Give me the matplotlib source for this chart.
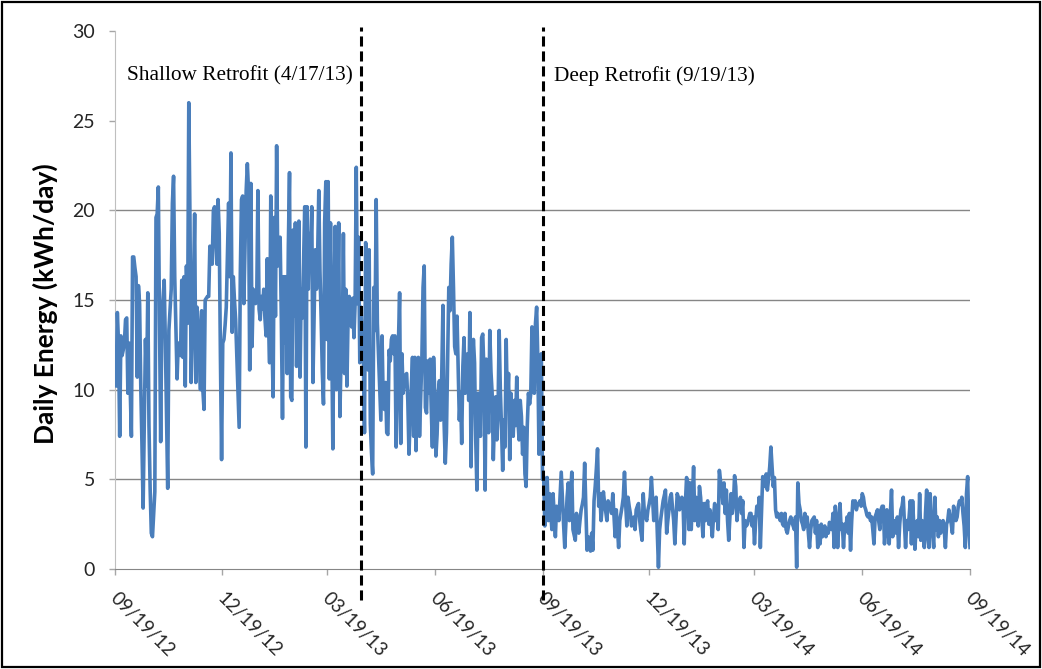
import matplotlib
matplotlib.use("Agg")
import matplotlib.pyplot as plt
from matplotlib.patches import Rectangle
from matplotlib.transforms import ScaledTranslation
import numpy as np
import pandas as pd

START = "2012-09-19"
SHALLOW_DATE = "2013-04-17"
DEEP_DATE = "2013-09-19"
END = "2014-09-19"

# daily energy use, kWh/day, one value per day
baseline = [
    12.0, 10.2, 14.3, 12.6, 7.4, 13.0, 11.9, 12.2, 12.6, 13.9,
    14.0, 9.8, 12.6, 10.0, 7.4, 17.4, 17.4, 16.8, 16.3, 10.7,
    15.8, 14.8, 10.2, 7.0, 3.4, 8.0, 12.8, 10.2, 15.4, 8.0,
    4.5, 2.0, 1.8, 3.0, 4.3, 19.6, 19.8, 21.3, 13.7, 7.1,
    14.1, 15.0, 16.1, 12.6, 8.5, 4.5, 13.3, 14.5, 15.6, 20.4,
    21.9, 16.3, 13.5, 10.6, 12.6, 12.2, 11.9, 16.1, 11.8, 16.3,
    10.2, 16.9, 13.7, 26.0, 19.6, 10.4, 13.0, 15.6, 19.8, 10.4,
    14.6, 13.7, 11.8, 10.0, 14.4, 10.0, 8.9, 15.0, 15.1, 15.2,
    15.2, 18.0, 17.5, 17.0, 20.0, 20.2, 18.5, 17.0, 20.6, 18.7,
    11.9, 6.1, 12.6, 12.8, 13.6, 14.6, 17.5, 20.4, 16.3, 23.2,
    13.2, 16.3, 15.0, 13.9, 11.9, 9.9, 7.9, 16.5, 20.6, 20.8,
    14.8, 18.0, 21.1, 22.6, 21.1, 11.1, 21.5, 12.4, 15.6, 15.2,
    14.8, 15.0, 21.1, 14.5, 13.9, 15.2, 14.5, 15.6, 14.0, 13.0,
    17.3, 14.0, 11.5, 20.8, 13.0, 9.6, 19.6, 14.1, 23.6, 16.9,
    17.5, 18.5, 14.0, 8.4, 16.3, 12.6, 16.3, 10.9, 18.0, 22.1,
    9.6, 9.4, 18.9, 14.1, 19.3, 11.3, 15.0, 19.4, 10.7, 15.6,
    14.0, 17.0, 20.2, 6.8, 20.2, 15.6, 18.7, 17.3, 20.2, 10.4,
    14.0, 17.8, 15.6, 17.4, 21.1, 16.6, 14.0, 11.0, 9.2, 19.3,
    21.6, 12.8, 21.6, 10.6, 19.3, 13.0, 6.7, 15.0, 19.1, 10.0,
    14.0, 19.3, 8.5, 11.8, 12.0, 18.7, 10.9, 15.6, 10.2, 14.0,
    15.2, 14.0, 13.5, 15.1, 12.9, 14.8, 22.4, 14.8, 18.5, 11.5,
]

after_shallow = [
    14.6, 12.6, 12.0, 7.6, 18.2, 17.5, 11.1, 17.8, 8.1, 6.5,
    5.3, 15.7, 13.3, 20.6, 13.7, 11.9, 10.0, 8.3, 13.0, 9.4,
    8.9, 10.4, 7.6, 7.5, 12.2, 11.6, 12.8, 13.0, 12.0, 13.0,
    6.8, 9.8, 12.5, 15.4, 7.0, 12.0, 9.8, 10.5, 10.8, 10.9,
    9.4, 6.4, 8.5, 10.2, 11.8, 7.4, 11.8, 6.6, 11.7, 11.8,
    7.4, 9.5, 11.7, 15.7, 16.9, 9.0, 8.7, 11.6, 9.8, 11.7,
    9.0, 6.8, 11.8, 9.8, 6.3, 7.5, 9.8, 10.5, 8.3, 10.9,
    14.7, 8.1, 5.9, 7.6, 11.7, 15.7, 14.4, 17.0, 18.5, 15.7,
    12.4, 12.0, 14.1, 11.3, 8.3, 9.8, 7.0, 11.3, 12.9, 9.8,
    10.9, 12.0, 9.4, 14.3, 5.7, 10.9, 12.8, 11.5, 7.2, 4.4,
    9.8, 9.4, 7.4, 12.9, 13.1, 11.0, 4.4, 11.7, 10.2, 7.6,
    13.3, 11.0, 9.8, 6.1, 8.3, 9.6, 7.2, 8.7, 13.3, 10.0,
    7.9, 5.5, 8.3, 6.8, 12.8, 9.0, 10.9, 6.1, 9.8, 8.3,
    7.4, 9.4, 8.0, 10.7, 8.3, 7.2, 9.4, 8.5, 6.4, 7.9,
    5.3, 4.6, 8.0, 9.8, 9.2, 9.8, 13.5, 11.0, 9.8, 13.7,
    14.6, 11.7, 6.4, 10.0, 12.0,
]

after_deep = [
    5.0,
    5.15, 2.4, 3.8, 5.1, 2.7, 4.2, 3.2, 2.2, 4.2, 3.0,
    1.8, 3.5, 3.1, 2.7, 4.0, 5.4, 3.9, 2.5, 1.2, 2.6,
    4.0, 4.8, 2.7, 4.0, 5.4, 2.2, 1.9, 1.6, 3.1, 2.5,
    2.0, 2.7, 3.3, 3.6, 4.0, 5.9, 3.5, 1.05, 1.8, 1.4,
    1.0, 2.0, 1.05, 3.8, 4.6, 5.6, 6.7, 3.5, 4.2, 2.7,
    3.5, 4.3, 3.65, 3.2, 2.7, 3.8, 3.6, 3.5, 3.1, 4.2,
    3.0, 1.8, 3.3, 2.2, 1.2, 2.7, 3.1, 3.5, 4.0, 5.4,
    3.65, 2.4, 4.0, 3.5, 3.1, 2.4, 2.6, 2.9, 2.2, 3.3,
    3.5, 3.65, 2.7, 2.1, 1.6, 4.2, 3.1, 2.9, 2.7, 3.3,
    3.6, 4.0, 5.1, 3.9, 2.7, 3.65, 4.0, 2.0, 0.1, 2.2,
    2.8, 3.3, 3.8, 4.1, 4.4, 2.0, 2.7, 3.3, 4.0, 4.2,
    3.4, 2.7, 1.4, 2.8, 4.2, 4.0, 3.3, 3.6, 4.0, 3.65,
    1.4, 3.65, 5.1, 4.8, 2.2, 4.8, 2.2, 3.9, 5.7, 2.7,
    4.0, 3.8, 2.4, 4.6, 4.0, 2.9, 1.8, 3.65, 2.7, 3.5,
    3.8, 2.5, 3.3, 2.6, 1.8, 2.9, 3.65, 2.7, 3.3, 2.2,
    5.5, 4.9, 4.6, 3.65, 4.8, 3.1, 4.4, 2.7, 1.6, 2.9,
    4.2, 3.1, 3.65, 5.2, 4.6, 2.7, 3.5, 3.7, 4.0, 3.1,
    3.8, 1.2, 2.7, 2.4, 2.5, 2.8, 3.1, 3.1, 2.4, 2.9,
    1.4, 2.7, 3.5, 3.0, 4.0, 1.2, 3.1, 5.15, 4.9, 4.6,
    5.3, 4.4, 5.0, 5.7, 6.8, 5.7, 4.6, 5.1, 3.3, 2.9,
    3.1, 2.9, 2.7, 3.1, 2.5, 2.4, 3.1, 2.2, 2.0, 2.4,
    2.7, 2.9, 2.6, 2.4, 2.2, 2.9, 0.1, 4.8, 3.65, 3.3,
    2.7, 2.5, 2.2, 3.1, 2.4, 2.9, 2.0, 1.2, 2.2, 2.7,
    2.8, 2.9, 2.0, 2.7, 1.2, 2.4, 1.4, 2.5, 1.8, 2.1,
    2.4, 1.8, 2.2, 2.0, 2.6,
    2.4, 2.2, 3.1, 1.2, 3.5, 2.7, 1.2, 2.5, 3.65, 2.2,
    2.5, 1.2, 2.5, 2.2, 2.9, 2.0, 3.1, 1.05, 2.7, 3.8,
    3.5, 3.8, 3.3, 3.6, 3.65, 3.8, 3.5, 4.2, 4.0, 3.5,
    3.3, 3.0, 2.9, 3.1, 2.7, 2.9, 2.2, 1.4, 2.9, 3.1,
    3.3, 2.7, 2.2, 3.3, 3.5, 3.5, 1.4, 2.4, 3.3, 2.2,
    1.4, 3.1, 4.4, 1.8, 2.7, 2.4, 2.0, 2.9, 1.2, 2.5,
    3.3, 3.5, 4.0, 2.6, 1.2, 2.7, 2.2, 2.9, 3.8, 1.4,
    3.8, 2.5, 1.1, 2.4, 2.7, 1.8, 4.2, 1.6, 2.7, 2.2,
    1.2, 3.1, 4.4, 1.8, 1.2, 4.2, 2.7, 2.0, 1.2, 4.0,
    2.2, 2.9, 1.8, 2.7, 2.0, 2.4, 2.7, 2.2, 1.2, 2.5,
    2.7, 3.3, 2.9, 2.5, 2.0, 3.5, 3.1, 2.7, 2.9, 3.5,
    3.8, 3.6, 4.0, 3.1, 2.4, 1.2, 4.2, 5.15, 2.2, 1.2,
]

tick_dates = ["2012-09-19", "2012-12-19", "2013-03-19", "2013-06-19", "2013-09-19",
              "2013-12-19", "2014-03-19", "2014-06-19", "2014-09-19"]
tick_labels = ["09/19/12", "12/19/12", "03/19/13", "06/19/13", "09/19/13",
               "12/19/13", "03/19/14", "06/19/14", "09/19/14"]
y_ticks = [0, 5, 10, 15, 20, 25, 30]
grid_levels = [5, 10, 15, 20]

kwh = np.array(baseline + after_shallow + after_deep)
days = pd.date_range(START, periods=len(kwh), freq="D")

fig = plt.figure(figsize=(10.42, 6.69), dpi=100)
ax = fig.add_axes([115 / 1042, 1 - 569 / 669, 855 / 1042, 538 / 669])

for level in grid_levels:
    ax.axhline(level, color="#868686", lw=1.0, zorder=1)

ax.plot(days, kwh, color="#4A7EBB", lw=2.6, solid_joinstyle="round", zorder=3)

ax.set_xlim(pd.Timestamp(START), pd.Timestamp(END))
ax.set_ylim(0, 30)

ax.set_yticks(y_ticks)
ax.set_yticklabels([str(t) for t in y_ticks], family="Lato", fontsize=14, color="#262626")
ax.set_xticks(pd.to_datetime(tick_dates))
ax.set_xticklabels(tick_labels, family="Lato", fontsize=13.5, color="#262626",
                   rotation=-45, ha="left", va="top", rotation_mode="anchor")
ax.tick_params(axis="y", direction="out", length=4.5, width=1, color="#A6A6A6", pad=10)
ax.tick_params(axis="x", direction="out", length=4.5, width=1, color="#A6A6A6", pad=10)

# nudge the slanted date labels a touch to the right of their ticks
shift = ScaledTranslation(4 / 100, 0, fig.dpi_scale_trans)
for label in ax.get_xticklabels():
    label.set_transform(label.get_transform() + shift)

for side in ("top", "right"):
    ax.spines[side].set_visible(False)
ax.spines["left"].set_color("#BFBFBF")
ax.spines["bottom"].set_color("#868686")

ax.set_ylabel("Daily Energy (kWh/day)", family="Lato", fontsize=19,
              fontweight="bold", color="black", va="center")
ax.yaxis.set_label_coords(-0.082, 0.494)

# retrofit markers, running a little past the plot area
for when in (SHALLOW_DATE, DEEP_DATE):
    d = pd.Timestamp(when)
    ax.plot([d, d], [-1.75, 30.2], color="black", lw=2.2, dashes=(3.3, 1.6),
            clip_on=False, zorder=4)

ax.annotate("Shallow Retrofit (4/17/13)", xy=(pd.Timestamp(SHALLOW_DATE), 27.5),
            xytext=(-6, 0), textcoords="offset points", ha="right", va="center",
            family="Liberation Serif", fontsize=15.3, color="black")
ax.annotate("Deep Retrofit (9/19/13)", xy=(pd.Timestamp(DEEP_DATE), 27.5),
            xytext=(8, 0), textcoords="offset points", ha="left", va="center",
            family="Liberation Serif", fontsize=15.3, color="black")

fig.patches.append(Rectangle((0.002, 0.003), 0.996, 0.994, transform=fig.transFigure,
                             fill=False, ec="black", lw=1.6))

fig.savefig("out.png", dpi=100)
